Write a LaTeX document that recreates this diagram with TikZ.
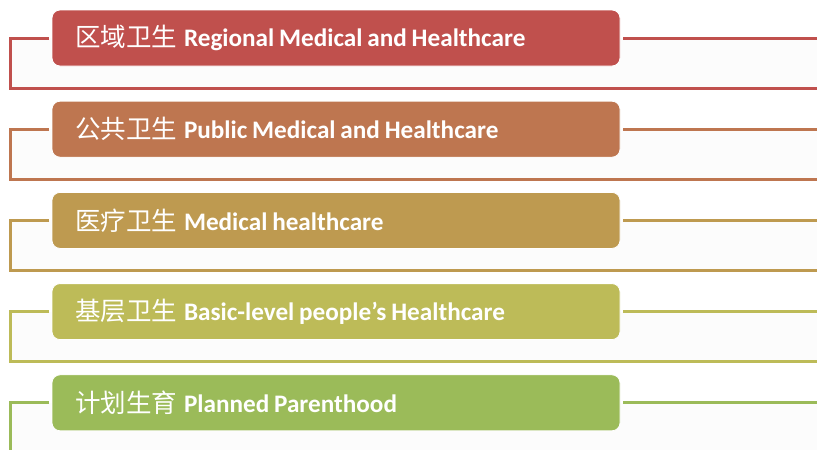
\documentclass[tikz,border=0pt]{standalone}
\usepackage{fontspec}
\setmainfont{Carlito}
\newfontfamily\cjk{Noto Sans CJK SC}
\definecolor{c1}{HTML}{C0504D}
\definecolor{c2}{HTML}{BE7650}
\definecolor{c3}{HTML}{BE9A50}
\definecolor{c4}{HTML}{BDBB58}
\definecolor{c5}{HTML}{9BBB59}
\definecolor{framefill}{HTML}{FCFCFC}
\tikzset{
  catbox/.style={rectangle, rounded corners=8pt, fill=#1, draw=white, line width=0.8pt,
    minimum width=568pt, minimum height=56pt, text width=522pt, inner xsep=23pt,
    align=left, text=white, font=\fontsize{25pt}{28pt}\selectfont, outer sep=3pt},
  frameline/.style={draw=#1, line width=3pt},
}
\newcommand{\cn}[1]{{\cjk\fontsize{25.5pt}{28pt}\selectfont #1}}
\newcommand{\en}[1]{{\bfseries\fontsize{25.2pt}{28pt}\selectfont\spaceskip=4.8pt plus 1pt minus 1pt\relax #1}}
\begin{document}
\begin{tikzpicture}[x=1pt,y=-1pt]
\useasboundingbox (0,0) rectangle (817,450);
\foreach \i/\col/\zh/\entext in {
  1/c1/区域卫生/Regional Medical and Healthcare,
  2/c2/公共卫生/Public Medical and Healthcare,
  3/c3/医疗卫生/Medical healthcare,
  4/c4/基层卫生/{Basic-level people’s Healthcare},
  5/c5/计划生育/Planned Parenthood}{
  \pgfmathsetmacro{\yc}{38+91.2*(\i-1)}
  \pgfmathsetmacro{\yb}{\yc+50}
  \fill[framefill] (10,\yc) rectangle (820,\yb);
  \coordinate (l\i) at (10,\yc);
  \coordinate (r\i) at (820,\yc);
  \coordinate (b\i) at (820,\yb);
  \node[catbox=\col] (box\i) at (336,\yc) {\cn{\zh}\hspace{7pt}\en{\entext}};
  \draw[frameline=\col] (box\i.west) -- (l\i) |- (b\i);
  \draw[frameline=\col] (box\i.east) -- (r\i);
}
\end{tikzpicture}
\end{document}
